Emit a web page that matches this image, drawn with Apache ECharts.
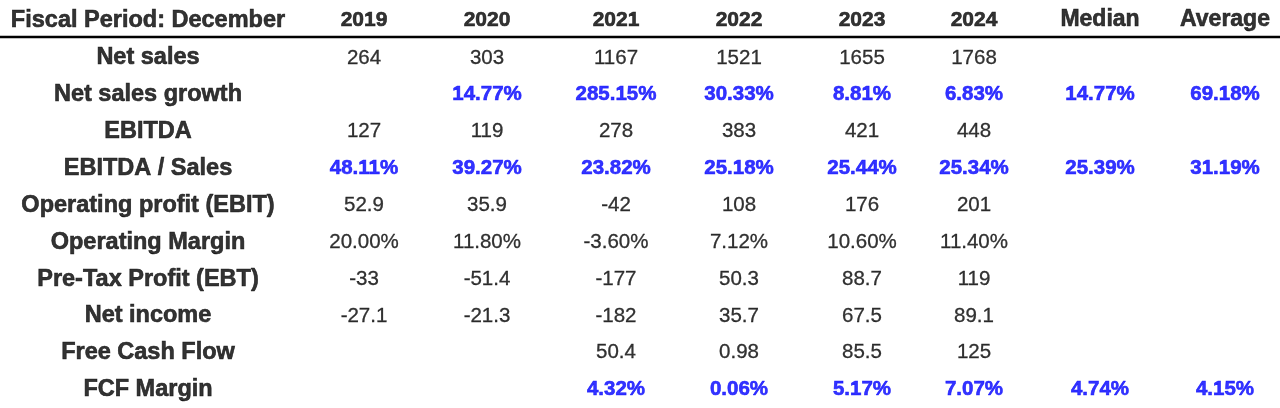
<!DOCTYPE html>
<html>
<head>
<meta charset="utf-8">
<script src="https://cdn.jsdelivr.net/npm/echarts@6/dist/echarts.min.js"></script>
<style>
html,body{margin:0;padding:0;background:#fff;}
#chart{width:1280px;height:408px;}
</style>
</head>
<body>
<div id="chart"></div>
<script>
// ---- data ----
var headerTitle = 'Fiscal Period: December';
var columns = ['2019', '2020', '2021', '2022', '2023', '2024', 'Median', 'Average'];
var rowLabels = ['Net sales', 'Net sales growth', 'EBITDA', 'EBITDA / Sales', 'Operating profit (EBIT)',
  'Operating Margin', 'Pre-Tax Profit (EBT)', 'Net income', 'Free Cash Flow', 'FCF Margin'];
var netSales        = ['264', '303', '1167', '1521', '1655', '1768', '', ''];
var netSalesGrowth  = ['', '14.77%', '285.15%', '30.33%', '8.81%', '6.83%', '14.77%', '69.18%'];
var ebitda          = ['127', '119', '278', '383', '421', '448', '', ''];
var ebitdaSales     = ['48.11%', '39.27%', '23.82%', '25.18%', '25.44%', '25.34%', '25.39%', '31.19%'];
var ebit            = ['52.9', '35.9', '-42', '108', '176', '201', '', ''];
var operatingMargin = ['20.00%', '11.80%', '-3.60%', '7.12%', '10.60%', '11.40%', '', ''];
var ebt             = ['-33', '-51.4', '-177', '50.3', '88.7', '119', '', ''];
var netIncome       = ['-27.1', '-21.3', '-182', '35.7', '67.5', '89.1', '', ''];
var freeCashFlow    = ['', '', '50.4', '0.98', '85.5', '125', '', ''];
var fcfMargin       = ['', '', '4.32%', '0.06%', '5.17%', '7.07%', '4.74%', '4.15%'];
var rowValues = [netSales, netSalesGrowth, ebitda, ebitdaSales, ebit, operatingMargin, ebt, netIncome, freeCashFlow, fcfMargin];
var highlightRows = ['Net sales growth', 'EBITDA / Sales', 'FCF Margin'];

// ---- layout (not data) ----
var labelColX = 148;
var colX = [364, 487, 616, 739, 862, 974, 1100, 1225];
var rowH = 36.9;

// ---- build marks ----
function pt(x, y, t) { return { value: [x, y], text: t }; }
var yearHeaderPts = [], statHeaderPts = [];
columns.forEach(function (c, i) {
  (/^\d+$/.test(c) ? yearHeaderPts : statHeaderPts).push(pt(colX[i], -1, c));
});
var titlePts = [pt(labelColX, -1, headerTitle)];
var labelPts = rowLabels.map(function (r, i) { return pt(labelColX, i, r); });
var plainPts = [], bluePts = [];
rowValues.forEach(function (vals, r) {
  var hi = highlightRows.indexOf(rowLabels[r]) >= 0;
  vals.forEach(function (v, c) {
    if (v === '') return;
    (hi ? bluePts : plainPts).push(pt(colX[c], r, v));
  });
});

function textSeries(data, font, stroke) {
  return {
    type: 'scatter', symbolSize: 1, itemStyle: { color: 'rgba(0,0,0,0)' }, silent: true,
    data: data,
    label: Object.assign({
      show: true, position: 'inside', align: 'center', verticalAlign: 'middle',
      fontFamily: 'Liberation Sans',
      textBorderColor: font.color,
      textBorderWidth: stroke,
      formatter: function (p) { return p.data.text; }
    }, font)
  };
}

var chart = echarts.init(document.getElementById('chart'), null, { renderer: 'canvas' });
var gridTop = 58 - 1.5 * rowH;
chart.setOption({
  animation: false,
  backgroundColor: '#ffffff',
  grid: { left: 0, right: 0, top: gridTop, height: 11 * rowH },
  xAxis: { type: 'value', min: 0, max: 1280, show: false },
  yAxis: { type: 'value', min: -1.5, max: 9.5, inverse: true, show: false },
  graphic: [{
    type: 'rect', shape: { x: 0, y: 35.8, width: 1280, height: 2.4 },
    style: { fill: '#000' }, silent: true
  }],
  series: [
    textSeries(titlePts, { fontSize: 23.5, fontWeight: 'bold', color: '#000000', offset: [0, -1] }, 0.6),
    textSeries(yearHeaderPts, { fontSize: 21, fontWeight: 'bold', color: '#000000', offset: [0, -1] }, 0.6),
    textSeries(statHeaderPts, { fontSize: 23, fontWeight: 'bold', color: '#000000', offset: [0, -1] }, 0.6),
    textSeries(labelPts, { fontSize: 23.5, fontWeight: 'bold', color: '#000000' }, 0.6),
    textSeries(plainPts, { fontSize: 20.5, fontWeight: 'normal', color: '#000000' }, 0.3),
    textSeries(bluePts, { fontSize: 20.5, fontWeight: 'bold', color: '#0000ff' }, 0.6)
  ]
});
</script>
</body>
</html>
